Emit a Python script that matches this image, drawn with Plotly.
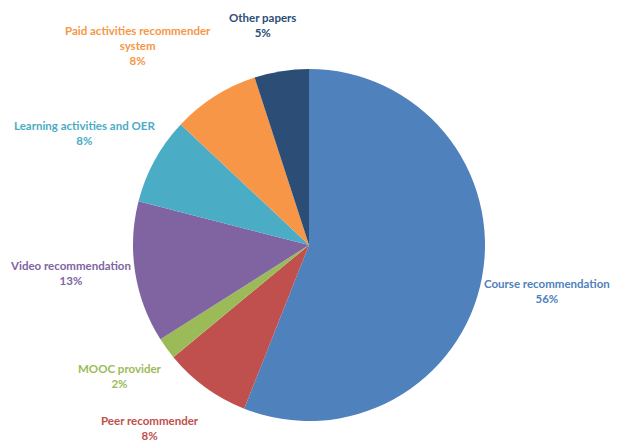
import plotly.graph_objects as go

# ---- data ----
categories = [
    "Course recommendation",
    "Peer recommender",
    "MOOC provider",
    "Video recommendation",
    "Learning activities and OER",
    "Paid activities recommender system",
    "Other papers",
]
shares = [56, 8, 2, 13, 8, 8, 5]

# ---- styling ----
colors = ["#4F81BD", "#C0504D", "#9BBB59", "#8064A2", "#4BACC6", "#F79646", "#2C4D75"]
label_text = [
    "Course recommendation",
    "Peer recommender",
    "MOOC provider",
    "Video recommendation",
    "Learning activities and OER",
    "Paid activities recommender<br>system",
    "Other papers",
]
# label centres in pixels (x, y of the block's middle)
label_pos = [(547, 291), (150, 428), (120, 376), (70, 273), (84, 133), (138, 45), (262, 25)]

W, H = 618, 443
cx, cy, r = 309, 245, 176

fig = go.Figure(
    go.Pie(
        labels=categories,
        values=shares,
        sort=False,
        direction="clockwise",
        rotation=0,
        textinfo="none",
        hoverinfo="label+percent",
        marker=dict(colors=colors, line=dict(width=0)),
        domain=dict(x=[(cx - r) / W, (cx + r) / W], y=[1 - (cy + r) / H, 1 - (cy - r) / H]),
        showlegend=False,
    )
)

total = sum(shares)
for txt, v, col, (px, py) in zip(label_text, shares, colors, label_pos):
    fig.add_annotation(
        x=px / W,
        y=1 - py / H,
        xref="paper",
        yref="paper",
        text=f"<b>{txt}<br>{round(100 * v / total)}%</b>",
        showarrow=False,
        xanchor="center",
        yanchor="middle",
        align="center",
        font=dict(family="Lato", size=11.5, color=col),
    )

fig.update_layout(
    width=W,
    height=H,
    margin=dict(l=0, r=0, t=0, b=0),
    paper_bgcolor="white",
    plot_bgcolor="white",
)

fig.write_html(
    "out.html",
    config={"displayModeBar": False},
    post_script="document.body.style.margin='0px';document.body.style.overflow='hidden';",
)
